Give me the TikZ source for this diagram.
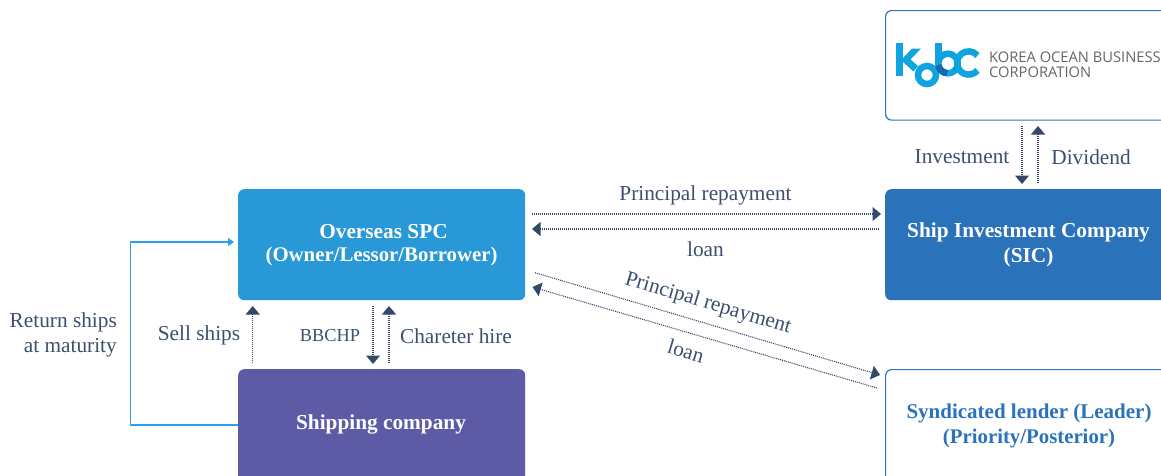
\documentclass[tikz,border=0pt]{standalone}
\usepackage{fontspec}
\setmainfont{Liberation Serif}
\newfontfamily\logofont{Open Sans}
\usetikzlibrary{arrows.meta}
\definecolor{inkc}{HTML}{3C4F6E}
\definecolor{arrowc}{HTML}{34496A}
\definecolor{spcc}{HTML}{2898D6}
\definecolor{sicc}{HTML}{2A72BA}
\definecolor{shipc}{HTML}{5E5BA6}
\definecolor{returnc}{HTML}{2AA0E8}
\definecolor{edgec}{HTML}{2F75BF}
\definecolor{logoc}{HTML}{0FA3E0}
\definecolor{logod}{HTML}{1668AE}
\definecolor{logot}{HTML}{666666}
\tikzset{
 x=1pt,y=-1pt,
 boxnode/.style={rounded corners=6pt,minimum width=290pt,minimum height=111pt,anchor=north west,inner sep=0pt},
 filledbox/.style={boxnode},
 outlinebox/.style={boxnode,draw=edgec,line width=1.2pt,fill=white},
 boxtext/.style={text=white,font=\fontsize{21.3}{25}\selectfont\bfseries,inner sep=0pt},
 lab/.style={text=inkc,font=\fontsize{21.3}{25}\selectfont,inner sep=0pt},
 flow/.style={draw=arrowc,line width=1.1pt,dash pattern=on 1pt off 1pt,-{Triangle[width=14pt,length=8.5pt,fill=arrowc]}},
 logoarc/.style={line width=6.5pt,logoc},
 logotext/.style={anchor=west,text=logot,font=\logofont\fontsize{14.7}{15}\selectfont,inner sep=0pt},
}
\begin{document}
\begin{tikzpicture}
\useasboundingbox (0,0) rectangle (1161,475);
\clip (0,0) rectangle (1161,475);
% boxes
\node[filledbox,fill=spcc,minimum width=287pt,minimum height=111pt] (spc) at (238,189) {};
\node[filledbox,fill=sicc] (sic) at (885,189) {};
\node[filledbox,fill=shipc,minimum width=287pt,minimum height=121pt] (ship) at (238,369) {};
\node[outlinebox,minimum height=109.5pt] (kobc) at (885,10) {};
\node[outlinebox,minimum height=121pt] (synd) at (885,369) {};
% box text
\node[boxtext] (t1) at (383.5,232) {Overseas SPC};
\node[boxtext,font=\fontsize{20.8}{25}\selectfont\bfseries] (t2) at (381.5,256) {(Owner/Lessor/Borrower)};
\node[boxtext] (t3) at (1028.5,232) {Ship Investment Company};
\node[boxtext] (t4) at (1028.5,257) {(SIC)};
\node[boxtext] (t5) at (381,424) {Shipping company};
\node[boxtext,text=sicc,font=\fontsize{21}{25}\selectfont\bfseries] (t6) at (1029,413) {Syndicated lender (Leader)};
\node[boxtext,text=sicc,font=\fontsize{20.8}{25}\selectfont\bfseries] (t7) at (1029,439) {(Priority/Posterior)};
% logo
\fill[logoc] (896,43) rectangle (903,76);
\fill[logoc] (903,58) -- (912,48.5) -- (921,48.5) -- (910.5,59.5) -- (918,66) -- (913.5,71.5) -- (903,62) -- cycle;
\draw[logoarc] (927,75) circle (9);
\fill[logoc] (935,43) rectangle (942,63);
\draw[logoarc] (948,63.5) circle (9.8);
\draw[logoarc,logod] (938.3,65) arc (171:95:9.8);
\draw[logoarc,logod,line width=4pt] (958,63.5) arc (0:40:10);
\draw[logoarc] (977.5,55.5) arc (320:40:11.6);
\node[logotext] (logo1) at (989,57) {KOREA OCEAN BUSINESS};
\node[logotext] (logo2) at (989,72) {CORPORATION};
% connector ends
\coordinate (a1) at (532,214); \coordinate (a2) at (881,214);
\coordinate (b1) at (879,229); \coordinate (b2) at (532,229);
\coordinate (c1) at (535,272.7); \coordinate (c2) at (880,375);
\coordinate (d1) at (877,388); \coordinate (d2) at (532.5,287);
\coordinate (e1) at (252.7,363); \coordinate (e2) at (252.7,306);
\coordinate (f1) at (373,306); \coordinate (f2) at (373,364);
\coordinate (g1) at (389,363); \coordinate (g2) at (389,306);
\coordinate (h1) at (1022,126); \coordinate (h2) at (1022,184);
\coordinate (i1) at (1038,183); \coordinate (i2) at (1038,126);
\coordinate (r1) at (130.5,425); \coordinate (r2) at (130.5,242); \coordinate (r3) at (234,242);
% connectors
\foreach \p/\q in {a1/a2,b1/b2,c1/c2,d1/d2,e1/e2,f1/f2,g1/g2,h1/h2,i1/i2}
  \draw[flow] (\p) -- (\q);
\draw[returnc,line width=1.2pt,-{Triangle[width=8pt,length=6pt]}] (ship.west |- r1) -- (r1) -- (r2) -- (r3);
% labels
\node[lab] (l1) at (705.5,195) {Principal repayment};
\node[lab] (l2) at (705.5,249.5) {loan};
\node[lab,rotate=-16.5] (l3) at (708,304) {Principal repayment};
\node[lab,rotate=-16.5] (l4) at (686,351) {loan};
\node[lab,anchor=east,align=right] (l5) at (117,334.5) {Return ships\\at maturity};
\node[lab] (l6) at (199,335) {Sell ships};
\node[lab,font=\fontsize{18.3}{25}\selectfont] (l7) at (330,336) {BBCHP};
\node[lab] (l8) at (456,336) {Chareter hire};
\node[lab] (l9) at (962,157) {Investment};
\node[lab] (l10) at (1091,157) {Dividend};
\end{tikzpicture}
\end{document}
